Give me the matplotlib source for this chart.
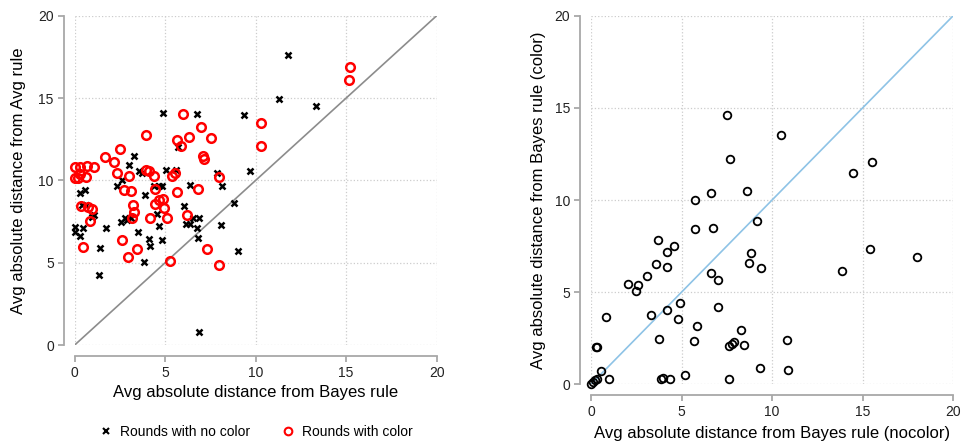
import matplotlib
matplotlib.use("Agg")
from matplotlib import pyplot as plt
from matplotlib.lines import Line2D

plt.rcParams['font.family'] = ['Liberation Sans', 'DejaVu Sans']

# left panel: rounds with no color (black x)
nocolor_bayes = [11.79, 11.31, 13.31, 4.88, 6.74, 9.34, 5.73, 3.26, 2.98, 3.55, 3.74,
                 5.05, 5.60, 2.62, 7.86, 9.69, 2.32, 4.38, 4.68, 4.81, 6.37, 8.14,
                 0.29, 0.55, 3.89, 8.80, 6.04, 0.42, 0.63, 1.05, 0.98, 4.55, 2.76,
                 2.89, 3.11, 2.56, 6.56, 6.87, 6.13, 6.35, 8.10, 4.68, 6.78, 0.0,
                 0.0, 0.44, 0.29, 1.75, 3.48, 4.09, 4.81, 6.81, 4.14, 1.42, 9.01,
                 3.83, 1.33, 6.87]
nocolor_avg = [17.63, 14.94, 14.49, 14.09, 14.03, 13.99, 12.00, 11.48, 10.91, 10.57, 10.43,
               10.61, 10.65, 10.04, 10.43, 10.55, 9.66, 9.68, 9.68, 9.68, 9.74, 9.68,
               9.21, 9.41, 9.13, 8.64, 8.46, 8.52, 8.50, 7.89, 7.79, 7.98, 7.73,
               7.59, 7.69, 7.49, 7.71, 7.71, 7.33, 7.37, 7.29, 7.25, 7.09, 7.19,
               6.84, 7.11, 6.62, 7.09, 6.88, 6.44, 6.36, 6.52, 5.99, 5.91, 5.73,
               5.02, 4.25, 0.77]

# left panel: rounds with color (red circles)
color_bayes = [15.21, 15.17, 10.28, 10.31, 6.00, 6.98, 6.30, 7.53, 5.65, 5.87, 3.92,
               2.52, 1.69, 2.17, 7.11, 7.13, 7.96, 0.0, 0.29, 0.68, 1.07, 0.0, 0.20,
               0.29, 0.63, 2.36, 3.02, 3.92, 4.11, 4.36, 5.40, 5.54, 2.74, 3.13,
               4.44, 5.65, 6.81, 0.35, 0.76, 0.98, 3.20, 3.26, 3.15, 4.14, 4.46,
               4.64, 4.86, 4.92, 5.12, 6.19, 0.85, 0.44, 2.63, 3.43, 2.95, 5.25,
               7.29, 7.97]
color_avg = [16.88, 16.07, 13.50, 12.11, 14.03, 13.24, 12.61, 12.59, 12.45, 12.11, 12.77,
             11.92, 11.44, 11.11, 11.48, 11.32, 10.22, 10.79, 10.83, 10.89, 10.83, 10.12,
             10.16, 10.38, 10.18, 10.47, 10.28, 10.65, 10.57, 10.28, 10.28, 10.45, 9.43,
             9.37, 9.49, 9.29, 9.47, 8.46, 8.36, 8.26, 8.50, 8.08, 7.71, 7.73, 8.56,
             8.81, 8.85, 8.32, 7.71, 7.89, 7.53, 5.93, 6.36, 5.81, 5.34, 5.08,
             5.81, 4.84]

# right panel: distance from Bayes rule, nocolor vs color
bayes_nocolor = [7.51, 10.51, 7.67, 15.53, 14.48, 6.61, 8.63, 5.74, 9.14, 5.74, 6.72,
                 3.72, 4.60, 4.20, 8.85, 15.42, 18.01, 3.57, 4.21, 8.74, 9.38, 13.87,
                 3.11, 2.06, 2.61, 2.47, 6.62, 7.01, 4.89, 7.01, 4.21, 3.29, 0.83,
                 4.82, 5.83, 8.28, 3.77, 5.69, 7.62, 7.76, 7.87, 8.43, 10.84, 0.28,
                 0.31, 0.57, 1.01, 9.35, 10.86, 5.21, 3.86, 3.99, 4.34, 7.62, 0.0,
                 0.13, 0.24, 0.31]
bayes_color = [14.59, 13.51, 12.22, 12.06, 11.48, 10.38, 10.51, 10.02, 8.88, 8.43, 8.48,
               7.83, 7.49, 7.18, 7.11, 7.32, 6.91, 6.53, 6.35, 6.56, 6.29, 6.15,
               5.90, 5.42, 5.37, 5.08, 6.06, 5.66, 4.39, 4.18, 4.03, 3.74, 3.67,
               3.53, 3.15, 2.93, 2.48, 2.33, 2.10, 2.21, 2.28, 2.13, 2.39, 2.04,
               2.01, 0.72, 0.29, 0.90, 0.78, 0.51, 0.27, 0.36, 0.29, 0.29, 0.0,
               0.14, 0.25, 0.31]

ticks = [0, 5, 10, 15, 20]
spine_gray = '#a8a8a8'


def style_axes(ax):
    ax.set_xlim(0, 20)
    ax.set_ylim(0, 20)
    ax.set_xticks(ticks)
    ax.set_yticks(ticks)
    for s in ['top', 'right']:
        ax.spines[s].set_visible(False)
    for s in ['left', 'bottom']:
        ax.spines[s].set_position(('outward', 8))
        ax.spines[s].set_color(spine_gray)
        ax.spines[s].set_linewidth(1.3)
    ax.tick_params(colors=spine_gray, labelcolor='#222222', labelsize=10,
                   length=4, width=1.3, pad=3)
    ax.grid(True, color='#cccccc', linestyle=':', linewidth=0.9)
    ax.set_axisbelow(True)


fig = plt.figure(figsize=(9.65, 4.45), dpi=100)

ax1 = fig.add_axes([0.0774, 0.2247, 0.3751, 0.740])
style_axes(ax1)
ax1.plot([0, 20], [0, 20], color='#8c8c8c', linewidth=1.2, zorder=1)
ax1.plot(nocolor_bayes, nocolor_avg, linestyle='none', marker='x', color='black',
         markersize=4, markeredgewidth=1.8, clip_on=False, zorder=3)
ax1.plot(color_bayes, color_avg, linestyle='none', marker='o', markerfacecolor='none',
         markeredgecolor='#ff0000', markersize=6.2, markeredgewidth=1.8, clip_on=False, zorder=4)
ax1.set_xlabel('Avg absolute distance from Bayes rule', fontsize=12, labelpad=4)
ax1.set_ylabel('Avg absolute distance from Avg rule', fontsize=12, labelpad=9)

handles = [Line2D([], [], linestyle='none', marker='x', color='black', markersize=4,
                  markeredgewidth=1.5),
           Line2D([], [], linestyle='none', marker='o', markerfacecolor='none',
                  markeredgecolor='#ff0000', markersize=5.5, markeredgewidth=1.5)]
fig.legend(handles, ['Rounds with no color', 'Rounds with color'], ncol=2,
           loc='center', bbox_to_anchor=(0.265, 0.03), frameon=False, fontsize=10,
           handlelength=1.0, handletextpad=0.5, columnspacing=2.2)

ax2 = fig.add_axes([0.6124, 0.1364, 0.3754, 0.8283])
style_axes(ax2)
ax2.plot([0, 20], [0, 20], color='#8ec3e6', linewidth=1.2, zorder=1)
ax2.plot(bayes_nocolor, bayes_color, linestyle='none', marker='o', markerfacecolor='none',
         markeredgecolor='black', markersize=5.5, markeredgewidth=1.3, clip_on=False, zorder=3)
ax2.set_xlabel('Avg absolute distance from Bayes rule (nocolor)', fontsize=12, labelpad=5)
ax2.set_ylabel('Avg absolute distance from Bayes rule (color)', fontsize=12, labelpad=6)

fig.savefig('out.png', dpi=100)
plt.close(fig)
